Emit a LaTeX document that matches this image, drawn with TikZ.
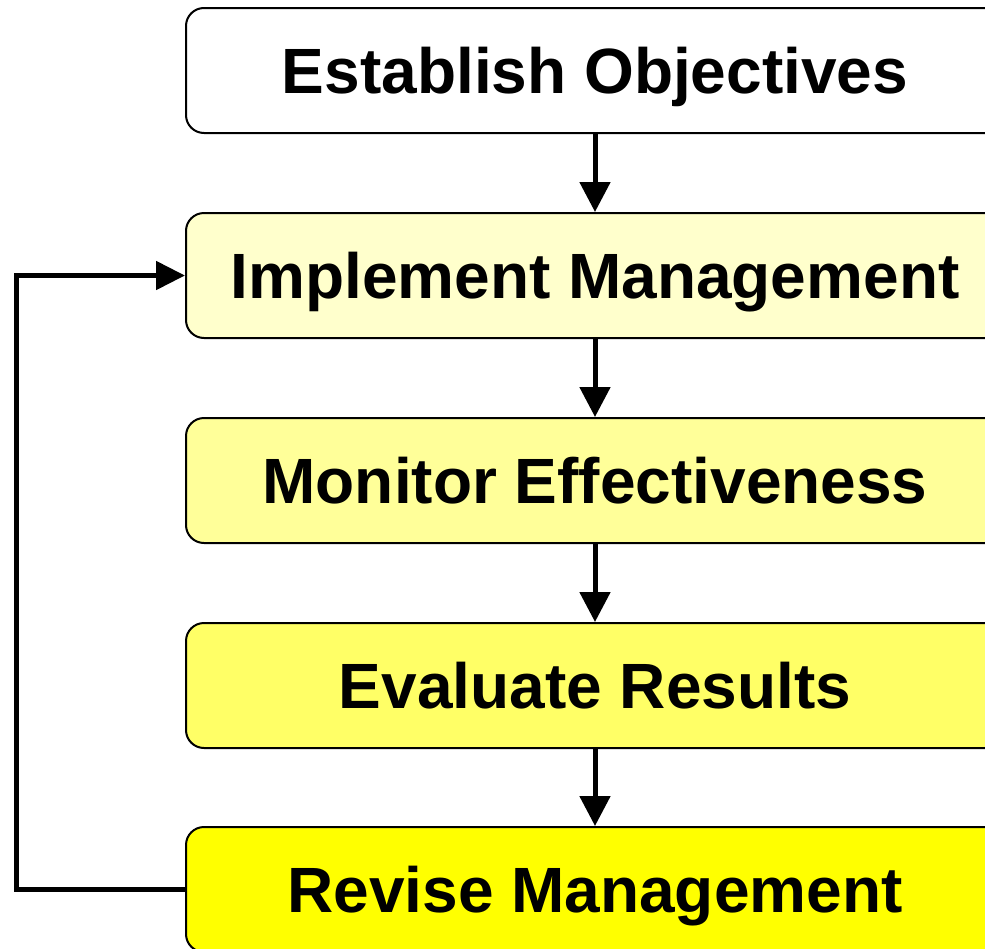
\documentclass[tikz,border=0pt]{standalone}
\usepackage{fontspec}
\setmainfont{Liberation Sans}
\usetikzlibrary{arrows.meta}
\definecolor{c1}{HTML}{FFFFFF}
\definecolor{c2}{HTML}{FFFFCC}
\definecolor{c3}{HTML}{FFFF99}
\definecolor{c4}{HTML}{FFFF66}
\definecolor{c5}{HTML}{FFFF00}
\tikzset{
  stepbox/.style={draw=black, line width=2pt, rounded corners=18pt,
    minimum width=818pt, minimum height=125pt, inner sep=0pt,
    text height=46pt, text depth=0pt,
    font=\fontsize{64}{70}\selectfont\bfseries},
  flow/.style={line width=5pt, -{Triangle[length=30pt,width=30pt]}},
  loop/.style={line width=5pt, -{Triangle[length=29pt,width=28pt]}}
}
\begin{document}
\begin{tikzpicture}[x=1pt,y=-1pt]
\useasboundingbox (0,0) rectangle (985,948);
\node[stepbox, fill=c1] (a) at (595,70.5) {Establish Objectives};
\node[stepbox, fill=c2] (b) at (595,275.5) {Implement Management};
\node[stepbox, fill=c3] (c) at (595,480.5) {Monitor Effectiveness};
\node[stepbox, fill=c4] (d) at (595,685.5) {Evaluate Results};
\node[stepbox, fill=c5] (e) at (595,889.5) {Revise Management};
\draw[flow] (a.south) -- (b.north);
\draw[flow] (b.south) -- (c.north);
\draw[flow] (c.south) -- (d.north);
\draw[flow] (d.south) -- (e.north);
\draw[loop] (e.west) -- ++(-169,0) |- (b.west);
\end{tikzpicture}
\end{document}
